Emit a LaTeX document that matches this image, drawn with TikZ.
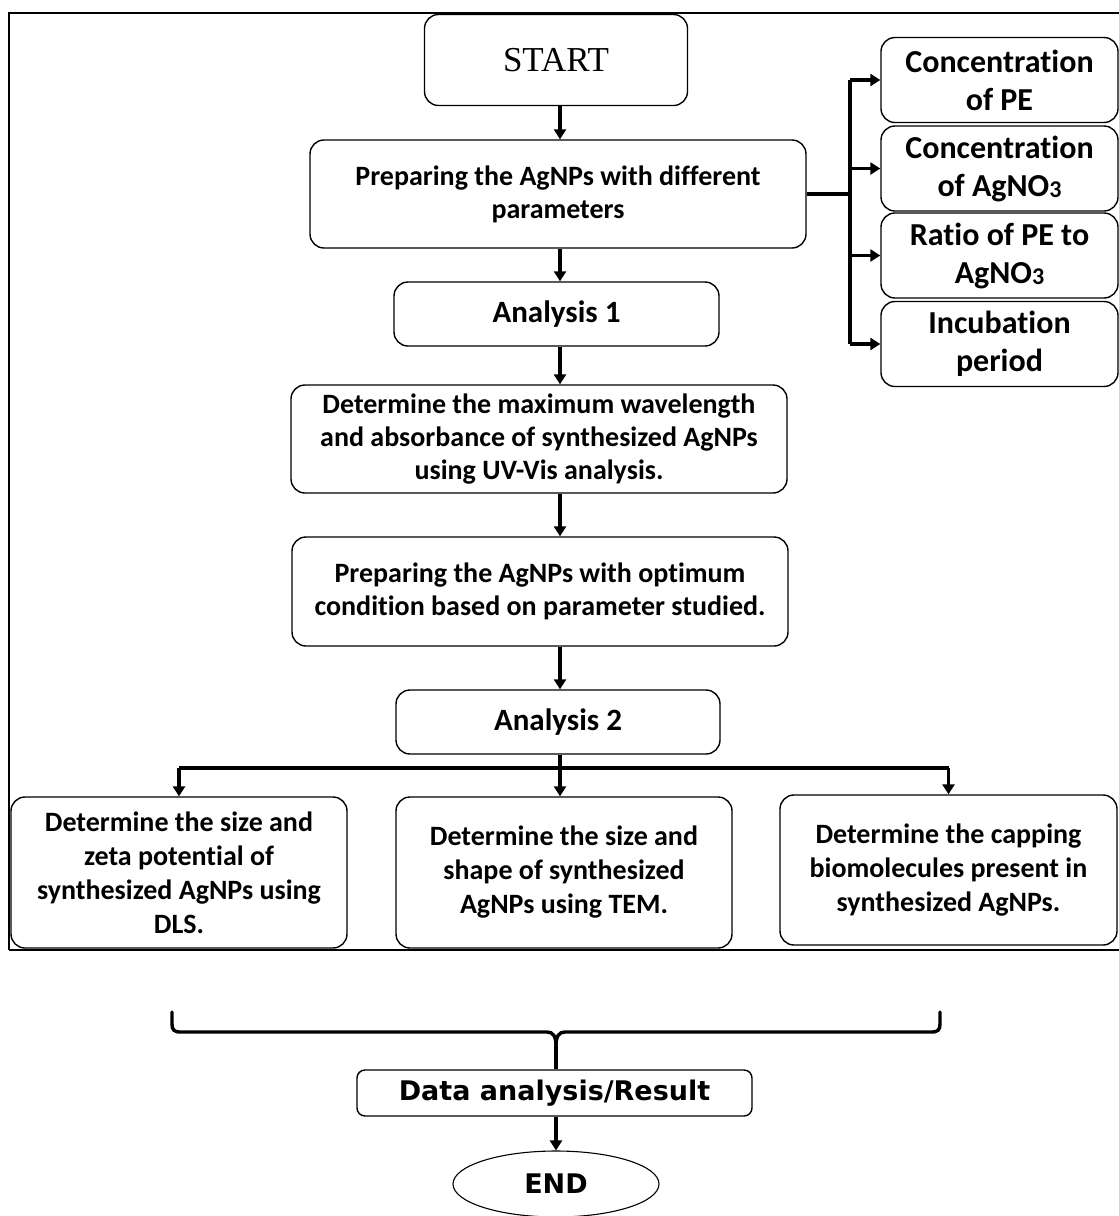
\documentclass[tikz,border=0pt]{standalone}
\usepackage{fontspec}
\setmainfont{Carlito}[Ligatures=NoCommon]
\newfontfamily\startfont{Liberation Serif}
\newfontfamily\widefont{DejaVu Sans}
\usetikzlibrary{arrows.meta,shapes.geometric}
\newcommand{\sbthree}{\raisebox{-1.5pt}{\fontsize{24}{24}\selectfont 3}}
\begin{document}
\begin{tikzpicture}[x=1pt,y=-1pt,
  box/.style={draw,line width=1.4pt,rounded corners=14pt,inner sep=0pt,align=center,
    font=\bfseries\fontsize{28}{33}\selectfont},
  rbox/.style={box,minimum width=237pt,minimum height=85pt,font=\bfseries\fontsize{32}{38}\selectfont},
  arr/.style={line width=3.4pt,-{Triangle[length=10pt,width=12pt]}},
  ln/.style={line width=3.4pt}]
\useasboundingbox (0,0) rectangle (1119,1216);
\fill[white] (0,0) rectangle (1119,1216);
% frame
\draw[line width=1.6pt] (9,950) -- (9,13) -- (1125,13);
\draw[line width=1.6pt] (9,950) -- (1125,950);
% main column
\node[box,minimum width=263pt,minimum height=91pt,font=\startfont\fontsize{35}{40}\selectfont] (start) at (556,60) {START};
\node[box,minimum width=496pt,minimum height=108pt] (prep) at (558,194) {Preparing the AgNPs with different\\parameters};
\node[box,minimum width=325pt,minimum height=64pt,font=\bfseries\fontsize{31}{36}\selectfont] (an1) at (556.5,314) {Analysis 1};
\node[box,minimum width=496pt,minimum height=108pt] (det) at (539,439) {Determine the maximum wavelength\\and absorbance of synthesized AgNPs\\using UV-Vis analysis.};
\node[box,minimum width=496pt,minimum height=109pt] (opt) at (540,591.5) {Preparing the AgNPs with optimum\\condition based on parameter studied.};
\node[box,minimum width=324pt,minimum height=64pt,font=\bfseries\fontsize{31}{36}\selectfont] (an2) at (558,722) {Analysis 2};
% bottom row
\node[box,minimum width=336pt,minimum height=151pt,font=\bfseries\fontsize{28}{34}\selectfont] (b1) at (179,872.5) {Determine the size and\\zeta potential of\\synthesized AgNPs using\\DLS.};
\node[box,minimum width=336pt,minimum height=151pt,font=\bfseries\fontsize{28}{34}\selectfont] (b2) at (564,872.5) {Determine the size and\\shape of synthesized\\AgNPs using TEM.};
\node[box,minimum width=337pt,minimum height=150pt,font=\bfseries\fontsize{28}{34}\selectfont] (b3) at (948.5,870) {Determine the capping\\biomolecules present in\\synthesized AgNPs.};
% right parameter boxes
\node[rbox] (r1) at (999.5,80) {Concentration\\of PE};
\node[rbox] (r2) at (999.5,168.5) {Concentration\\of AgNO\sbthree};
\node[rbox] (r3) at (999.5,255.5) {Ratio of PE to\\AgNO\sbthree};
\node[rbox] (r4) at (999.5,344) {Incubation\\period};
% end part
\node[box,rounded corners=8pt,minimum width=395pt,minimum height=46pt,font=\widefont\bfseries\fontsize{27}{30}\selectfont] (data) at (554.5,1093) {Data analysis/Result};
\node[draw,line width=1.1pt,ellipse,minimum width=206pt,minimum height=66pt,inner sep=0pt,font=\widefont\bfseries\fontsize{27}{30}\selectfont] (end) at (556,1184) {END};
% vertical arrows
\coordinate (ax) at (560,0);
\draw[arr] (start.south -| ax) -- (prep.north -| ax);
\draw[arr] (prep.south -| ax) -- (an1.north -| ax);
\draw[arr] (an1.south -| ax) -- (det.north -| ax);
\draw[arr] (det.south -| ax) -- (opt.north -| ax);
\draw[arr] (opt.south -| ax) -- (an2.north -| ax);
% branches to parameter boxes
\coordinate (bx) at (850,0);
\draw[ln] (prep.east) -- (prep.east -| bx);
\draw[ln] (r1.west -| bx) -- (r4.west -| bx);
\draw[arr] (r1.west -| bx) -- (r1.west);
\draw[arr] (r2.west -| bx) -- (r2.west);
\draw[arr] (r3.west -| bx) -- (r3.west);
\draw[arr] (r4.west -| bx) -- (r4.west);
% branch to bottom boxes
\coordinate (by) at (0,768);
\draw[ln] (an2.south -| ax) -- (by -| ax);
\draw[ln] (by -| b1) -- (by -| b3);
\draw[arr] (by -| b1) -- (b1.north);
\draw[arr] (by -| ax) -- (b2.north -| ax);
\draw[arr] (by -| b3) -- (b3.north);
% brace
\coordinate (bl) at (172,1012);
\coordinate (br) at (940,1012);
\coordinate (bc) at (556,1046);
\draw[ln,line cap=round] (bl) -- (172,1024) .. controls (172,1030) and (174,1032) .. (181,1032)
  -- (547,1032) .. controls (553,1032) and (556,1036) .. (bc);
\draw[ln,line cap=round] (br) -- (940,1024) .. controls (940,1030) and (938,1032) .. (931,1032)
  -- (565,1032) .. controls (559,1032) and (556,1036) .. (bc);
\draw[ln] (bc) -- (data.north -| bc);
\draw[arr] (data.south -| bc) -- (end.north -| bc);
\end{tikzpicture}
\end{document}
